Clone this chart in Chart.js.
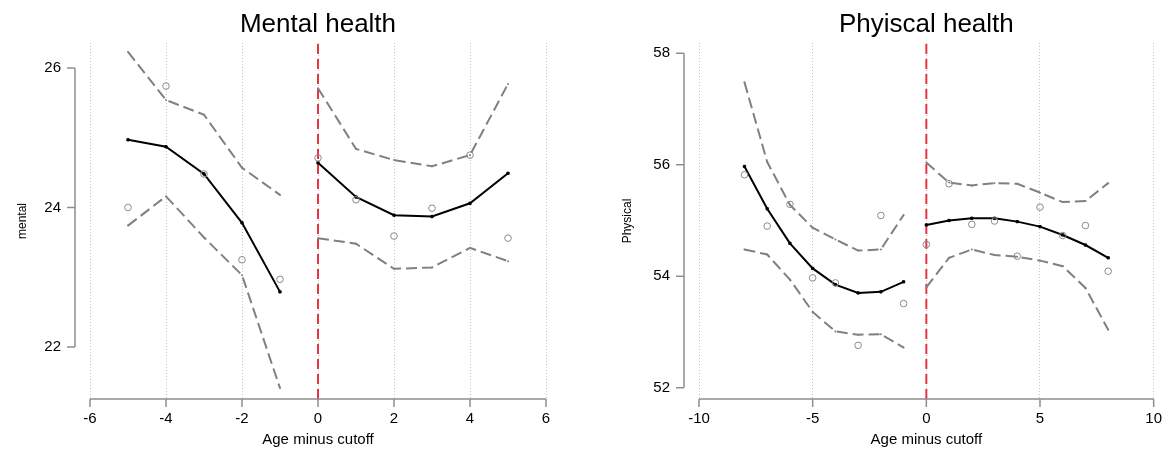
<!DOCTYPE html>
<html>
<head>
<meta charset="utf-8">
<script src="https://cdn.jsdelivr.net/npm/chart.js@4"></script>
<style>
  html, body { margin: 0; padding: 0; background: #ffffff; }
  #wrap { position: relative; width: 1173px; height: 450px; overflow: hidden; }
  canvas { position: absolute; top: 0; }
  #c1 { left: 0; }
  #c2 { left: 586px; }
</style>
</head>
<body>
<div id="wrap">
  <canvas id="c1" width="586" height="450"></canvas>
  <canvas id="c2" width="587" height="450"></canvas>
</div>
<script>
// ---------- Mental health ----------
const mentalXLeft  = [-5, -4, -3, -2, -1];
const mentalXRight = [0, 1, 2, 3, 4, 5];
const mentalFitLeft  = [24.97, 24.87, 24.48, 23.78, 22.79];
const mentalFitRight = [24.64, 24.15, 23.89, 23.87, 24.06, 24.49];
const mentalHiLeft   = [26.23, 25.54, 25.33, 24.57, 24.18];
const mentalHiRight  = [25.71, 24.84, 24.68, 24.59, 24.75, 25.77];
const mentalLoLeft   = [23.74, 24.16, 23.57, 23.03, 21.41];
const mentalLoRight  = [23.56, 23.48, 23.12, 23.14, 23.42, 23.23];
const mentalObsX     = [-5, -4, -3, -2, -1, 0, 1, 2, 3, 4, 5];
const mentalObs      = [24.00, 25.74, 24.48, 23.25, 22.97, 24.71, 24.11, 23.59, 23.99, 24.75, 23.56];
const mentalXTicks   = [-6, -4, -2, 0, 2, 4, 6];
const mentalYTicks   = [22, 24, 26];
const mentalYRange   = [21.254, 26.358];

// ---------- Physical health ----------
const physXLeft  = [-8, -7, -6, -5, -4, -3, -2, -1];
const physXRight = [0, 1, 2, 3, 4, 5, 6, 7, 8];
const physFitLeft  = [55.97, 55.21, 54.59, 54.14, 53.85, 53.70, 53.72, 53.90];
const physFitRight = [54.92, 55.00, 55.04, 55.04, 54.98, 54.89, 54.74, 54.56, 54.33];
const physHiLeft   = [57.48, 56.05, 55.28, 54.87, 54.66, 54.46, 54.48, 55.10];
const physHiRight  = [56.04, 55.68, 55.63, 55.67, 55.66, 55.50, 55.33, 55.35, 55.67];
const physLoLeft   = [54.48, 54.39, 53.94, 53.36, 53.01, 52.95, 52.96, 52.72];
const physLoRight  = [53.80, 54.33, 54.48, 54.38, 54.35, 54.28, 54.18, 53.79, 53.04];
const physObsX     = [-8, -7, -6, -5, -4, -3, -2, -1, 0, 1, 2, 3, 4, 5, 6, 7, 8];
const physObs      = [55.82, 54.90, 55.29, 53.97, 53.88, 52.76, 55.09, 53.51, 54.57, 55.66, 54.93, 54.99, 54.36, 55.24, 54.73, 54.91, 54.09];
const physXTicks   = [-10, -5, 0, 5, 10];
const physYTicks   = [52, 54, 56, 58];
const physYRange   = [51.797, 58.185];

const FONT = '"Liberation Sans", Arial, Helvetica, sans-serif';
const AXIS_COLOR = '#8f8f8f';

function pts(xs, ys) { return xs.map((x, i) => ({ x: x, y: ys[i] })); }

const rAxes = {
  id: 'rAxes',
  afterDraw(chart, args, opts) {
    const { ctx, chartArea } = chart;
    const xs = chart.scales.x, ys = chart.scales.y;
    const xt = opts.xTicks, yt = opts.yTicks;
    ctx.save();
    ctx.strokeStyle = AXIS_COLOR;
    ctx.lineWidth = 1.5;
    ctx.beginPath();
    const ax = chartArea.left - 15;
    ctx.moveTo(ax, ys.getPixelForValue(yt[0]));
    ctx.lineTo(ax, ys.getPixelForValue(yt[yt.length - 1]));
    yt.forEach(v => { const p = ys.getPixelForValue(v); ctx.moveTo(ax, p); ctx.lineTo(ax - 8, p); });
    const ay = chartArea.bottom;
    ctx.moveTo(xs.getPixelForValue(xt[0]), ay);
    ctx.lineTo(xs.getPixelForValue(xt[xt.length - 1]), ay);
    xt.forEach(v => { const p = xs.getPixelForValue(v); ctx.moveTo(p, ay); ctx.lineTo(p, ay + 8); });
    ctx.stroke();
    ctx.restore();
  }
};

function ciSet(xs, ys) {
  return {
    data: pts(xs, ys), borderColor: '#808080', borderWidth: 2, borderDash: [11, 5],
    pointRadius: 1, pointBackgroundColor: '#808080', pointBorderWidth: 0, tension: 0, fill: false
  };
}
function fitSet(xs, ys) {
  return {
    data: pts(xs, ys), borderColor: '#000000', borderWidth: 2,
    pointRadius: 1.6, pointStyle: 'rect', pointBackgroundColor: '#000000', pointBorderColor: '#000000',
    pointBorderWidth: 1, tension: 0, fill: false
  };
}

function makeChart(id, o) {
  const datasets = [
    {
      data: pts(o.obsX, o.obs), showLine: false, pointRadius: 3.3, pointStyle: 'circle',
      pointBackgroundColor: 'rgba(0,0,0,0)', pointBorderColor: '#8a8a8a', pointBorderWidth: 1
    },
    fitSet(o.xL, o.fitL), fitSet(o.xR, o.fitR),
    ciSet(o.xL, o.hiL), ciSet(o.xR, o.hiR),
    ciSet(o.xL, o.loL), ciSet(o.xR, o.loR),
    {
      data: [{ x: 0, y: o.yRange[0] }, { x: 0, y: o.yRange[1] }],
      borderColor: 'rgba(232,30,45,0.9)', borderWidth: 2, borderDash: [10, 5], pointRadius: 0
    }
  ];
  return new Chart(document.getElementById(id), {
    type: 'line',
    data: { datasets: datasets },
    options: {
      responsive: false, animation: false, devicePixelRatio: 1,
      layout: { padding: { left: 0, right: o.padRight, top: 0, bottom: 0 } },
      plugins: {
        legend: { display: false },
        tooltip: { enabled: false },
        title: {
          display: true, text: o.title, color: '#000000', fullSize: false,
          font: { family: FONT, size: 26, weight: 'normal', lineHeight: 1.2 },
          padding: { top: 9.4, bottom: 2.4 }
        },
        rAxes: { xTicks: o.xTicks, yTicks: o.yTicks }
      },
      scales: {
        x: {
          type: 'linear', min: o.xTicks[0], max: o.xTicks[o.xTicks.length - 1],
          afterBuildTicks: s => { s.ticks = o.xTicks.map(v => ({ value: v })); },
          afterFit: s => { s.height = 51; },
          border: { display: false, dash: [1, 2] },
          grid: { display: true, drawTicks: false, color: '#c4c4c4', lineWidth: 1 },
          ticks: { color: '#000000', padding: 11, font: { family: FONT, size: 15 }, maxRotation: 0, autoSkip: false },
          title: {
            display: true, text: 'Age minus cutoff', color: '#000000',
            font: { family: FONT, size: 15, lineHeight: 1.2 }, padding: { top: 0, bottom: 1.4 }
          }
        },
        y: {
          type: 'linear', min: o.yRange[0], max: o.yRange[1],
          afterBuildTicks: s => { s.ticks = o.yTicks.map(v => ({ value: v })); },
          afterFit: s => { s.width = o.yWidth; },
          border: { display: false },
          grid: { display: false },
          ticks: { color: '#000000', padding: 21, font: { family: FONT, size: 15 }, autoSkip: false },
          title: {
            display: true, text: o.yTitle, color: '#000000',
            font: { family: FONT, size: 12, lineHeight: 1.2 }, padding: { top: o.yTitlePad, bottom: 0 }
          }
        }
      }
    },
    plugins: [rAxes]
  });
}

makeChart('c1', {
  title: 'Mental health', yTitle: 'mental',
  xL: mentalXLeft, xR: mentalXRight,
  fitL: mentalFitLeft, fitR: mentalFitRight,
  hiL: mentalHiLeft, hiR: mentalHiRight,
  loL: mentalLoLeft, loR: mentalLoRight,
  obsX: mentalObsX, obs: mentalObs,
  xTicks: mentalXTicks, yTicks: mentalYTicks, yRange: mentalYRange,
  yWidth: 90, padRight: 40, yTitlePad: 15
});

makeChart('c2', {
  title: 'Phyiscal health', yTitle: 'Physical',
  xL: physXLeft, xR: physXRight,
  fitL: physFitLeft, fitR: physFitRight,
  hiL: physHiLeft, hiR: physHiRight,
  loL: physLoLeft, loR: physLoRight,
  obsX: physObsX, obs: physObs,
  xTicks: physXTicks, yTicks: physYTicks, yRange: physYRange,
  yWidth: 113, padRight: 18, yTitlePad: 34.5
});
</script>
</body>
</html>
